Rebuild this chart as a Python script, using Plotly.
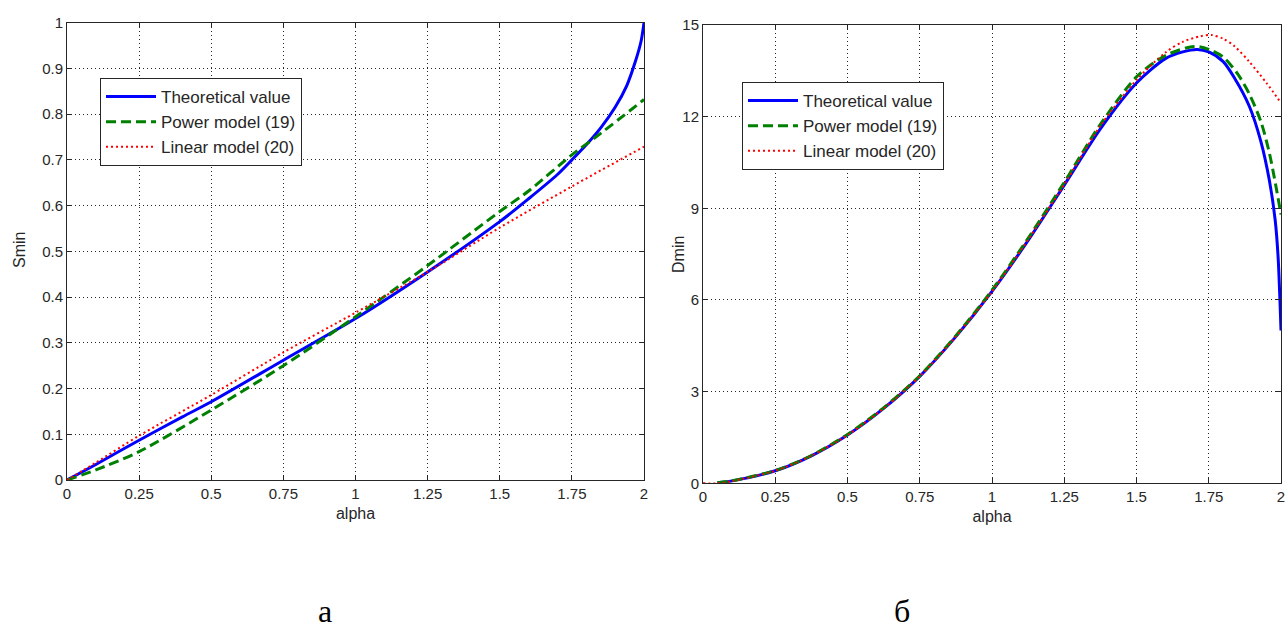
import plotly.graph_objects as go

# ---------------- data ----------------
# Panel a: Smin vs alpha
alpha_s_theory = [0, 0.1, 0.25, 0.4, 0.5, 0.75, 1.0, 1.25, 1.5, 1.6, 1.7, 1.75, 1.8, 1.85, 1.9, 1.94, 1.97, 1.99, 2.0]
smin_theory = [0.0, 0.034, 0.087, 0.138, 0.171, 0.262, 0.353, 0.455, 0.565, 0.615, 0.668, 0.700, 0.733, 0.770, 0.815, 0.862, 0.915, 0.960, 1.0]

alpha_s_power = [0, 0.1, 0.25, 0.5, 0.75, 1.0, 1.25, 1.5, 1.6, 1.75, 1.85, 2.0]
smin_power = [0.0, 0.022, 0.062, 0.153, 0.250, 0.357, 0.469, 0.587, 0.632, 0.711, 0.758, 0.832]

alpha_s_linear = [0, 0.1, 0.25, 0.5, 0.75, 1.0, 1.25, 1.5, 1.75, 2.0]
smin_linear = [0.0, 0.038, 0.097, 0.186, 0.279, 0.366, 0.455, 0.552, 0.642, 0.729]

# Panel б: Dmin vs alpha
alpha_d_theory = [0.05, 0.1, 0.25, 0.375, 0.5, 0.625, 0.75, 0.875, 1.0, 1.125, 1.25, 1.375, 1.5, 1.6, 1.66, 1.71, 1.75, 1.8, 1.84, 1.89, 1.93, 1.96, 1.98, 1.99, 2.0]
dmin_theory = [0.02, 0.08, 0.41, 0.90, 1.58, 2.45, 3.50, 4.80, 6.28, 7.95, 9.76, 11.6, 13.1, 13.9, 14.12, 14.2, 14.12, 13.8, 13.25, 12.35, 11.2, 9.9, 8.6, 7.4, 5.0]

alpha_d_power = [0.05, 0.1, 0.25, 0.375, 0.5, 0.625, 0.75, 0.875, 1.0, 1.125, 1.25, 1.375, 1.5, 1.6, 1.7, 1.75, 1.8, 1.85, 1.89, 1.93, 1.96, 2.0]
dmin_power = [0.02, 0.08, 0.42, 0.91, 1.60, 2.47, 3.52, 4.83, 6.32, 8.02, 9.85, 11.75, 13.3, 14.0, 14.3, 14.2, 13.95, 13.4, 12.75, 11.85, 10.8, 8.8]

alpha_d_linear = [0, 0.05, 0.1, 0.25, 0.375, 0.5, 0.625, 0.75, 0.875, 1.0, 1.125, 1.25, 1.375, 1.5, 1.6, 1.66, 1.72, 1.76, 1.8, 1.84, 1.89, 1.95, 2.0]
dmin_linear = [0.0, 0.0, 0.07, 0.41, 0.90, 1.58, 2.45, 3.50, 4.80, 6.28, 7.97, 9.78, 11.7, 13.2, 14.1, 14.45, 14.63, 14.67, 14.55, 14.3, 13.8, 13.1, 12.45]

x_ticks = [0, 0.25, 0.5, 0.75, 1, 1.25, 1.5, 1.75, 2]
x_ticktext = ["0", "0.25", "0.5", "0.75", "1", "1.25", "1.5", "1.75", "2"]
smin_ticks = [0, 0.1, 0.2, 0.3, 0.4, 0.5, 0.6, 0.7, 0.8, 0.9, 1]
smin_ticktext = ["0", "0.1", "0.2", "0.3", "0.4", "0.5", "0.6", "0.7", "0.8", "0.9", "1"]
dmin_ticks = [0, 3, 6, 9, 12, 15]

names = ["Theoretical value", "Power model (19)", "Linear model (20)"]

# ---------------- styling ----------------
W, H = 1286, 633
INK = "#262626"
FONT = "Liberation Sans, Arial, sans-serif"
SERIF = "Liberation Serif, Times New Roman, serif"
BLUE = "#0000FF"
GREEN = "#008000"
RED = "#FF0000"

styles = [
    dict(color=BLUE, width=3),
    dict(color=GREEN, width=3, dash="10px,5px"),
    dict(color=RED, width=2, dash="2px,3px"),
]

fig = go.Figure()

left_series = [(alpha_s_theory, smin_theory), (alpha_s_power, smin_power), (alpha_s_linear, smin_linear)]
right_series = [(alpha_d_theory, dmin_theory), (alpha_d_power, dmin_power), (alpha_d_linear, dmin_linear)]

for (xs, ys), nm, st in zip(left_series, names, styles):
    fig.add_trace(go.Scatter(x=xs, y=ys, mode="lines", name=nm, line=dict(shape="spline", smoothing=0.8, **st),
                             xaxis="x", yaxis="y", legend="legend"))
for (xs, ys), nm, st in zip(right_series, names, styles):
    fig.add_trace(go.Scatter(x=xs, y=ys, mode="lines", name=nm, line=dict(shape="spline", smoothing=0.8, **st),
                             xaxis="x2", yaxis="y2", legend="legend2"))


def px_x(p):
    return p / W


def px_y(p):
    return 1 - p / H


axis_common = dict(
    showline=True, linecolor=INK, linewidth=1, mirror="ticks",
    ticks="inside", ticklen=5, tickcolor=INK,
    showgrid=True, gridcolor=INK, gridwidth=1, griddash="1px,3px",
    zeroline=False, automargin=False,
    tickfont=dict(family=FONT, size=15, color=INK),
)

title_font = dict(family=FONT, size=16, color=INK)
legend_common = dict(xanchor="left", yanchor="top", bgcolor="white", bordercolor=INK, borderwidth=1,
                     font=dict(family=FONT, size=17, color=INK), itemwidth=50, tracegroupgap=0)

fig.update_layout(
    width=W, height=H, autosize=False,
    margin=dict(l=0, r=0, t=0, b=0),
    paper_bgcolor="white", plot_bgcolor="white",
    showlegend=True,
    xaxis=dict(domain=[px_x(67), px_x(644)], range=[0, 2], tickvals=x_ticks, ticktext=x_ticktext,
               anchor="y", title=dict(text="alpha", font=title_font, standoff=6), **axis_common),
    yaxis=dict(domain=[px_y(480), px_y(22.7)], range=[0, 1], tickvals=smin_ticks, ticktext=smin_ticktext,
               anchor="x", **axis_common),
    xaxis2=dict(domain=[px_x(703), px_x(1281)], range=[0, 2], tickvals=x_ticks, ticktext=x_ticktext,
                anchor="y2", title=dict(text="alpha", font=title_font, standoff=6), **axis_common),
    yaxis2=dict(domain=[px_y(483.3), px_y(25)], range=[0, 15], tickvals=dmin_ticks,
                anchor="x2", **axis_common),
    legend=dict(x=px_x(100), y=px_y(78), **legend_common),
    legend2=dict(x=px_x(742), y=px_y(82), **legend_common),
    annotations=[
        dict(text="Smin", xref="paper", yref="paper", x=px_x(19), y=px_y(250), textangle=-90,
             showarrow=False, xanchor="center", yanchor="middle", font=title_font),
        dict(text="Dmin", xref="paper", yref="paper", x=px_x(678), y=px_y(255), textangle=-90,
             showarrow=False, xanchor="center", yanchor="middle", font=title_font),
        dict(text="а", xref="paper", yref="paper", x=px_x(325), y=px_y(631),
             showarrow=False, xanchor="center", yanchor="bottom",
             font=dict(family=SERIF, size=32, color="black")),
        dict(text="б", xref="paper", yref="paper", x=px_x(902), y=px_y(631),
             showarrow=False, xanchor="center", yanchor="bottom",
             font=dict(family=SERIF, size=32, color="black")),
    ],
)

fig.write_html("out.html")
